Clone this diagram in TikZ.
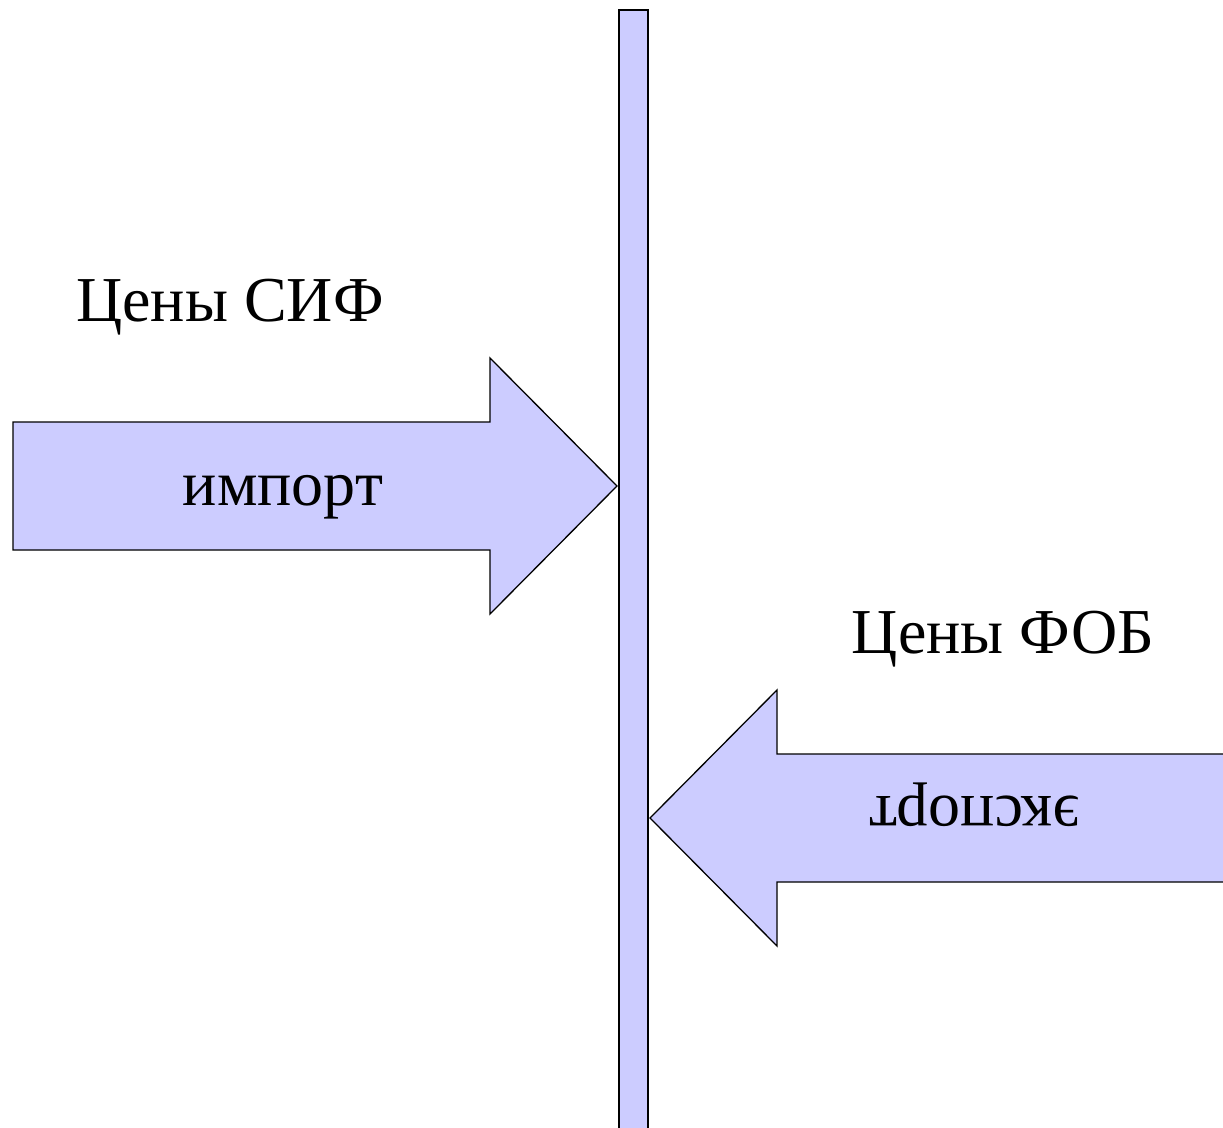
\documentclass[tikz,border=0pt]{standalone}
\usepackage{fontspec}
\setmainfont{Liberation Serif}
\definecolor{lav}{HTML}{CCCCFF}
\begin{document}
\begin{tikzpicture}[x=1pt,y=-1pt,
  shapefill/.style={fill=lav,draw=black,line width=1.3pt,line join=miter},
  lbl/.style={inner sep=0pt,font=\fontsize{64}{64}\selectfont}]
\useasboundingbox (0,0) rectangle (1223,1127);
\begin{scope}
\clip (0,0) rectangle (1223,1127);
% vertical bar
\draw[shapefill] (619,10) rectangle (648,1140);
% import arrow
\draw[shapefill] (13,422) -- (490,422) -- (490,358) -- (617,486) -- (490,614) -- (490,550) -- (13,550) -- cycle;
% export arrow
\draw[shapefill] (1240,754) -- (777,754) -- (777,690) -- (650,818) -- (777,946) -- (777,882) -- (1240,882) -- cycle;
\end{scope}
\node[lbl] (cif) at (230,307) {Цены СИФ};
\node[lbl] (imp) at (283,497) {импорт};
\node[lbl] (fob) at (1003,639) {Цены ФОБ};
\node[lbl,rotate=180] (exp) at (975,805) {экспорт};
\end{tikzpicture}
\end{document}
